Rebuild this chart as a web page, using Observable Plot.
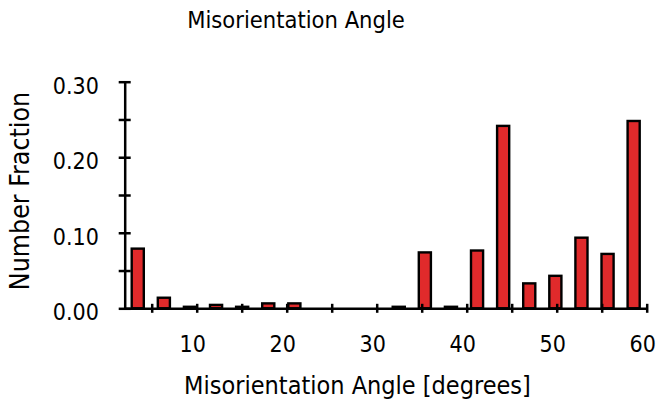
<!DOCTYPE html>
<html>
<head>
<meta charset="utf-8">
<script src="https://cdn.jsdelivr.net/npm/d3@7"></script>
<script src="https://cdn.jsdelivr.net/npm/@observablehq/plot@0.6"></script>
<style>
  html, body { margin: 0; padding: 0; background: #fff; }
  #wrap { position: relative; width: 657px; height: 406px; overflow: hidden; font-family: "DejaVu Sans Condensed", "DejaVu Sans", sans-serif; }
  .lbl { position: absolute; white-space: nowrap; color: #000; line-height: 1; }
</style>
</head>
<body>
<div id="wrap"></div>
<script>
// Bin centres (degrees) and number fraction per bin
const binCenters = [3.45, 6.35, 9.25, 12.15, 15.05, 17.95, 20.85, 23.75, 26.65, 29.55,
                    32.45, 35.35, 38.25, 41.15, 44.05, 46.95, 49.85, 52.75, 55.65, 58.55];
const fractions  = [0.079, 0.014, 0.002, 0.0045, 0.002, 0.0065, 0.0065, 0, 0, 0,
                    0.002, 0.074, 0.002, 0.0765, 0.2415, 0.033, 0.043, 0.0935, 0.072, 0.248];
const binWidth = 2.9;
const xDomain = [2, 60];
const yDomain = [0, 0.30];
const xTicksAll = [5, 10, 15, 20, 25, 30, 35, 40, 45, 50, 55, 60];
const xTickLabels = [10, 20, 30, 40, 50, 60];
const yTicksAll = [0, 0.05, 0.10, 0.15, 0.20, 0.25, 0.30];
const yTickLabels = [0, 0.10, 0.20, 0.30];
const titleText = "Misorientation Angle";
const xLabelText = "Misorientation Angle [degrees]";
const yLabelText = "Number Fraction";

const rows = binCenters.map((c, i) => ({x1: c - binWidth / 2, x2: c + binWidth / 2, y: fractions[i]}))
  .filter(d => d.y > 0);

const font = '"DejaVu Sans Condensed", "DejaVu Sans", sans-serif';

const chart = Plot.plot({
  width: 657,
  height: 406,
  marginLeft: 124.7,
  marginRight: 10.3,
  marginTop: 81.7,
  marginBottom: 97.7,
  style: {fontFamily: font, fontSize: "23px", color: "#000", background: "#fff"},
  x: {domain: xDomain},
  y: {domain: yDomain},
  marks: [
    Plot.rectY(rows, {x1: "x1", x2: "x2", y: "y", fill: "#e02a2b", stroke: "#000", strokeWidth: 2.4, insetLeft: 7, insetRight: 7}),
    // x tick marks crossing axis
    Plot.axisX({ticks: xTicksAll, tickSize: 9, dy: -4.5, tickFormat: () => "", label: null, stroke: "#000", strokeWidth: 2.5}),
    Plot.axisX({ticks: xTickLabels, tickSize: 0, tickPadding: 27, dx: -4.5, label: null, fontSize: 23, fill: "#000"}),
    Plot.axisY({ticks: yTicksAll, tickSize: 12, dx: 6, tickFormat: () => "", label: null, stroke: "#000", strokeWidth: 2.5}),
    Plot.axisY({ticks: yTickLabels, tickSize: 0, tickPadding: 26.4, dy: 4, tickFormat: d3.format(".2f"), label: null, fontSize: 23, fill: "#000"}),
    Plot.ruleY([yDomain[0]], {x1: xDomain[0], x2: xDomain[1], stroke: "#000", strokeWidth: 2.5}),
    Plot.ruleX([xDomain[0]], {y1: yDomain[0], y2: yDomain[1], stroke: "#000", strokeWidth: 2.5})
  ]
});

const wrap = document.getElementById("wrap");
wrap.appendChild(chart);

function addLabel(text, cx, cy, size, rotate) {
  const d = document.createElement("div");
  d.className = "lbl";
  d.textContent = text;
  d.style.fontSize = size + "px";
  d.style.left = cx + "px";
  d.style.top = cy + "px";
  d.style.transform = "translate(-50%, -50%)" + (rotate ? " rotate(-90deg)" : "");
  wrap.appendChild(d);
}
addLabel(titleText, 296, 21, 23.5, false);
addLabel(xLabelText, 357.5, 385, 25, false);
addLabel(yLabelText, 20, 191, 26.5, true);
</script>
</body>
</html>
